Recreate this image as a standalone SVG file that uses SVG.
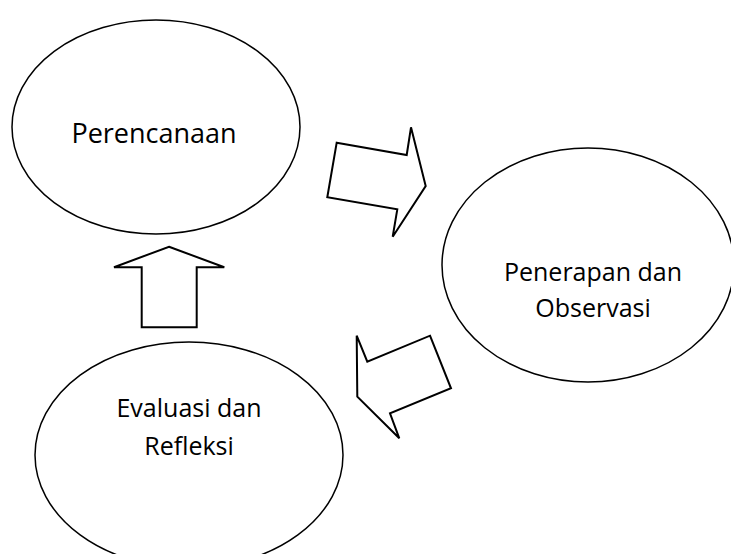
<svg xmlns="http://www.w3.org/2000/svg" width="731" height="554" viewBox="0 0 731 554">
<style>
.node{fill:#fff;stroke:#000;stroke-width:1.5}
.arrow{fill:#fff;stroke:#000;stroke-width:2;stroke-linejoin:miter}
text{font-family:"Open Sans","Noto Sans",sans-serif;fill:#000;text-anchor:middle}
</style>
<rect width="731" height="554" fill="#fff"/>
<g id="perencanaan">
<ellipse class="node" cx="156" cy="127" rx="144" ry="107"/>
<text x="154" y="143" font-size="27">Perencanaan</text>
</g>
<g id="penerapan">
<ellipse class="node" cx="588" cy="265" rx="146" ry="117"/>
<text x="593" y="281" font-size="25">Penerapan dan</text>
<text x="593" y="317" font-size="25">Observasi</text>
</g>
<g id="evaluasi">
<ellipse class="node" cx="189" cy="455" rx="154" ry="113"/>
<text x="189" y="417" font-size="25">Evaluasi dan</text>
<text x="189" y="455" font-size="25">Refleksi</text>
</g>
<g id="connectors">
<polygon class="arrow" points="336.7,142.7 406.7,155 411,127.3 425.7,186 392.7,236.7 397.3,209.3 327.3,197.3"/>
<polygon class="arrow" points="430,335.7 451,388.3 390,413.3 399.3,438.3 357.3,396.7 356.7,335.7 367.3,361.7"/>
<polygon class="arrow" points="169,246.7 224.3,267.3 196.7,267.3 196.7,327.3 141.7,327.3 141.7,267.3 114,267.3"/>
</g>
</svg>
